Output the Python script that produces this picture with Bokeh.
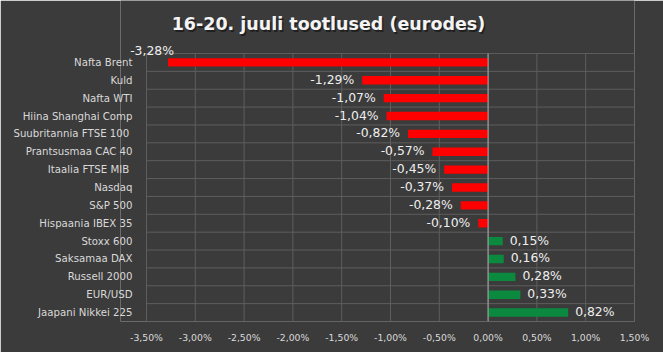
from bokeh.plotting import figure
from bokeh.models import Range1d, FixedTicker, ColumnDataSource
from bokeh.core.properties import value
from bokeh.embed import file_html
from bokeh.resources import INLINE

title = "16-20. juuli tootlused  (eurodes)"
categories = ["Nafta Brent", "Kuld", "Nafta WTI", "Hiina Shanghai Comp", "Suubritannia FTSE 100 ",
              "Prantsusmaa CAC 40", "Itaalia FTSE MIB ", "Nasdaq", "S&P 500", "Hispaania IBEX 35",
              "Stoxx 600", "Saksamaa DAX", "Russell 2000", "EUR/USD", "Jaapani Nikkei 225"]
returns = [-3.28, -1.29, -1.07, -1.04, -0.82, -0.57, -0.45, -0.37, -0.28, -0.10,
           0.15, 0.16, 0.28, 0.33, 0.82]
x_ticks = [-3.5, -3.0, -2.5, -2.0, -1.5, -1.0, -0.5, 0.0, 0.5, 1.0, 1.5]
x_tick_labels = ["-3,50%", "-3,00%", "-2,50%", "-2,00%", "-1,50%", "-1,00%", "-0,50%",
                 "0,00%", "0,50%", "1,00%", "1,50%"]

BG = "#3b3b3b"
FONT = "DejaVu Sans"
GRID = "#5e5e5e"
n = len(categories)
idx = list(range(n))

# layout geometry (pixels)
ROW_PX = 17.87
TOP_ROWS = 53 / ROW_PX
PLOT_LEFT, PLOT_RIGHT = 146, 634
FRAME_LEFT = 120
PX_PER_UNIT = (PLOT_RIGHT - PLOT_LEFT) / (x_ticks[-1] - x_ticks[0])
x_start = x_ticks[0] - (PLOT_LEFT - FRAME_LEFT) / PX_PER_UNIT

p = figure(width=663, height=352, output_backend="svg", toolbar_location=None,
           x_range=Range1d(x_start, x_ticks[-1]),
           y_range=Range1d(n - 0.5, -0.5 - TOP_ROWS),
           min_border_left=FRAME_LEFT, min_border_right=663 - PLOT_RIGHT,
           min_border_top=0, min_border_bottom=31)
p.background_fill_color = BG
p.border_fill_color = BG
p.outline_line_color = None

# grid (only over the plot area)
p.xgrid.visible = False
p.ygrid.visible = False
bounds_y = [i - 0.5 for i in range(n + 1)]
p.segment(x0=x_ticks, x1=x_ticks, y0=[bounds_y[0]] * len(x_ticks), y1=[bounds_y[-1]] * len(x_ticks),
          line_color=GRID, line_width=1)
p.segment(x0=[x_ticks[0]] * len(bounds_y), x1=[x_ticks[-1]] * len(bounds_y), y0=bounds_y, y1=bounds_y,
          line_color=GRID, line_width=1)

colors = ["#ff0000" if v < 0 else "#0b8a3f" for v in returns]
labels = [("%.2f%%" % v).replace(".", ",") for v in returns]
src = ColumnDataSource(dict(y=idx, v=returns, c=colors, lab=labels))
p.hbar(y="y", left=0, right="v", height=0.47, source=src, fill_color="c", line_color=None)

# zero line
p.segment(x0=[0], x1=[0], y0=[bounds_y[0]], y1=[bounds_y[-1]], line_color="#a8a8a8", line_width=1)

# value labels
near = [i for i in idx if -3.0 < returns[i] < 0]
far = [i for i in idx if returns[i] <= -3.0]
pos = [i for i in idx if returns[i] >= 0]
def sub(ii):
    return ColumnDataSource(dict(y=[idx[i] for i in ii], x=[returns[i] for i in ii],
                                 t=[labels[i] for i in ii]))
common = dict(text_font=value(FONT), text_font_size="12.4px", text_color="#eeeeee",
              text_baseline="middle")
p.text(x="x", y="y", text="t", source=sub(near), text_align="right", x_offset=-8, y_offset=-1, **common)
p.text(x="x", y="y", text="t", source=sub(pos), text_align="left", x_offset=7, y_offset=-1, **common)
p.text(x="x", y="y", text="t", source=sub(far), text_align="right", x_offset=6, y_offset=-12, **common)

# axes
p.xaxis.ticker = FixedTicker(ticks=x_ticks)
p.xaxis.major_label_overrides = dict(zip(x_ticks, x_tick_labels))
p.yaxis.ticker = FixedTicker(ticks=idx)
p.yaxis.major_label_overrides = dict(zip(idx, categories))
for ax in (p.xaxis, p.yaxis):
    ax.axis_line_color = None
    ax.major_tick_line_color = None
    ax.minor_tick_line_color = None
    ax.major_label_text_color = "#d9d9d9"
    ax.major_label_text_font = FONT
p.xaxis.major_label_text_font_size = "9.3px"
p.yaxis.major_label_text_font_size = "10.2px"
p.xaxis.major_label_standoff = 4
p.yaxis.major_label_standoff = -18

# title (with a soft shadow)
TITLE_X = x_ticks[0] + (331 - PLOT_LEFT) / PX_PER_UNIT
TITLE_Y = -0.5 - (53 - 24) / ROW_PX
tcommon = dict(text_font=value(FONT), text_font_size="17.5px", text_font_style="bold",
               text_align="center", text_baseline="middle")
p.text(x=[TITLE_X], y=[TITLE_Y], text=[title], x_offset=1.5, y_offset=1.5,
       text_color="#151515", text_alpha=0.7, **tcommon)
p.text(x=[TITLE_X], y=[TITLE_Y], text=[title], text_color="#f4f4f4", **tcommon)

open("out.html", "w").write(file_html(p, INLINE))
